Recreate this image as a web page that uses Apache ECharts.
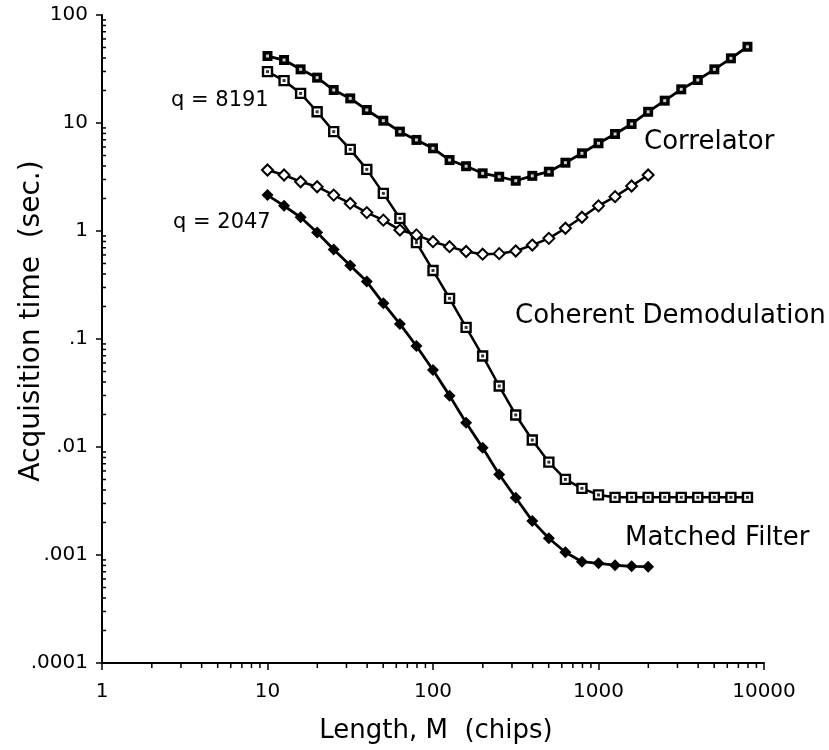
<!DOCTYPE html>
<html>
<head>
<meta charset="utf-8">
<script src="https://cdn.jsdelivr.net/npm/echarts@6/dist/echarts.min.js"></script>
<style>
html,body{margin:0;padding:0;background:#fff;}
#chart{width:829px;height:750px;}
</style>
</head>
<body>
<div id="chart"></div>
<script>
// ---- data ----
const lengthsM = [10, 12.59, 15.85, 19.95, 25.12, 31.62, 39.81, 50.12, 63.1, 79.43,
  100, 125.9, 158.5, 199.5, 251.2, 316.2, 398.1, 501.2, 631, 794.3,
  1000, 1259, 1585, 1995, 2512, 3162, 3981, 5012, 6310, 7943];

// filled squares (top curve, q = 8191)
const filledSquares = [41.7, 38.3, 31.4, 26.3, 20.2, 16.9, 13.2, 10.5, 8.32, 6.97,
  5.83, 4.54, 3.98, 3.42, 3.18, 2.92, 3.24, 3.54, 4.29, 5.24,
  6.49, 7.91, 9.79, 12.7, 16.1, 20.5, 25.0, 31.4, 39.7, 50.8];

// open squares (q = 8191)
const openSquares = [29.9, 24.7, 18.8, 12.7, 8.32, 5.70, 3.72, 2.23, 1.31, 0.78,
  0.431, 0.238, 0.128, 0.0697, 0.0367, 0.0198, 0.0116, 0.00724, 0.00501, 0.00414,
  0.0036, 0.00342, 0.00342, 0.00342, 0.00342, 0.00342, 0.00342, 0.00342, 0.00342, 0.00342];

// open diamonds (q = 2047)
const openDiamonds = [3.67, 3.30, 2.86, 2.57, 2.15, 1.80, 1.48, 1.26, 1.02, 0.92,
  0.796, 0.716, 0.646, 0.61, 0.617, 0.653, 0.741, 0.855, 1.06, 1.34,
  1.71, 2.08, 2.61, 3.30];

// filled diamonds (q = 2047)
const filledDiamonds = [2.15, 1.71, 1.34, 0.97, 0.675, 0.479, 0.340, 0.214, 0.138, 0.0861,
  0.0516, 0.0299, 0.0168, 0.00982, 0.00556, 0.00339, 0.00207, 0.00143, 0.00106, 0.000867,
  0.000838, 0.000804, 0.000785, 0.00078];

const xTickLabels = {0: '1', 1: '10', 2: '100', 3: '1000', 4: '10000'};
const yTickLabels = {'-4': '.0001', '-3': '.001', '-2': '.01', '-1': '.1', '0': '1', '1': '10', '2': '100'};
const minorMultipliers = [2, 3, 4, 5, 6, 7, 8, 9];
const xDecades = [1, 10, 100, 1000];
const yDecades = [0.0001, 0.001, 0.01, 0.1, 1, 10];

const annotations = [
  {text: 'q = 8191', x: 171, y: 101, size: 21},
  {text: 'q = 2047', x: 173, y: 223, size: 21},
  {text: 'Correlator', x: 644, y: 142, size: 26},
  {text: 'Coherent Demodulation', x: 515, y: 316, size: 26},
  {text: 'Matched Filter', x: 625, y: 538, size: 26}
];

// ---- build ----
const FONT = 'DejaVu Sans';
const pair = arr => arr.map((v, i) => [lengthsM[i], v]);
const xMinor = [];
xDecades.forEach(d => minorMultipliers.forEach(m => xMinor.push([m * d, 0.0001])));
const yMinor = [];
yDecades.forEach(d => minorMultipliers.forEach(m => yMinor.push([1, m * d])));

function dotSeries(arr, color) {
  return {
    type: 'scatter', data: pair(arr), symbol: 'rect', symbolSize: 3,
    itemStyle: {color: color}, silent: true, z: 5
  };
}

const chart = echarts.init(document.getElementById('chart'), null, {renderer: 'canvas'});
chart.setOption({
  animation: false,
  backgroundColor: '#fff',
  grid: {left: 102, right: 65, top: 15, bottom: 87, containLabel: false},
  xAxis: {
    type: 'log', logBase: 10, min: 1, max: 10000, splitNumber: 4,
    axisLine: {lineStyle: {color: '#000', width: 2}},
    axisTick: {length: 7, lineStyle: {color: '#000', width: 1.5}},
    splitLine: {show: false},
    axisLabel: {
      fontSize: 20, fontFamily: FONT, color: '#000', margin: 19,
      formatter: v => xTickLabels[Math.round(Math.log10(v))] || ''
    }
  },
  yAxis: {
    type: 'log', logBase: 10, min: 0.0001, max: 100, splitNumber: 6,
    axisLine: {lineStyle: {color: '#000', width: 2}},
    axisTick: {length: 6, lineStyle: {color: '#000', width: 1.5}},
    splitLine: {show: false},
    axisLabel: {
      fontSize: 20, fontFamily: FONT, color: '#000', margin: 14,
      formatter: v => yTickLabels[String(Math.round(Math.log10(v)))] || ''
    }
  },
  graphic: [
    {
      type: 'text', x: 32, y: 321, rotation: Math.PI / 2,
      style: {text: 'Acquisition time  (sec.)', font: '28px "DejaVu Sans"', fill: '#000',
        align: 'center', verticalAlign: 'middle'}
    },
    {
      type: 'text', x: 436, y: 731,
      style: {text: 'Length, M  (chips)', font: '26px "DejaVu Sans"', fill: '#000',
        align: 'center', verticalAlign: 'middle'}
    }
  ].concat(annotations.map(a => ({
    type: 'text', x: a.x, y: a.y,
    style: {text: a.text, font: a.size + 'px "DejaVu Sans"', fill: '#000',
      align: 'left', verticalAlign: 'middle'}
  }))),
  series: [
    {
      type: 'line', name: 'filled squares', data: pair(filledSquares),
      symbol: 'rect', symbolSize: 10, showAllSymbol: true,
      lineStyle: {color: '#000', width: 2.8}, itemStyle: {color: '#000'}, z: 3
    },
    dotSeries(filledSquares, '#fff'),
    {
      type: 'line', name: 'open squares', data: pair(openSquares),
      symbol: 'rect', symbolSize: 9, showAllSymbol: true,
      lineStyle: {color: '#000', width: 2.5},
      itemStyle: {color: '#fff', borderColor: '#000', borderWidth: 2.4}, z: 3
    },
    dotSeries(openSquares, '#000'),
    {
      type: 'line', name: 'open diamonds', data: pair(openDiamonds),
      symbol: 'diamond', symbolSize: [11, 11], showAllSymbol: true,
      lineStyle: {color: '#000', width: 2.5},
      itemStyle: {color: '#fff', borderColor: '#000', borderWidth: 2}, z: 3
    },
    {
      type: 'line', name: 'filled diamonds', data: pair(filledDiamonds),
      symbol: 'diamond', symbolSize: [12, 12], showAllSymbol: true,
      lineStyle: {color: '#000', width: 2.8}, itemStyle: {color: '#000'}, z: 3
    },
    {
      type: 'custom', silent: true, data: xMinor, clip: false,
      renderItem: (params, api) => {
        const p = api.coord([api.value(0), api.value(1)]);
        return {type: 'line', shape: {x1: p[0], y1: p[1], x2: p[0], y2: p[1] + 5},
          style: {stroke: '#000', lineWidth: 1.5}};
      }
    },
    {
      type: 'custom', silent: true, data: yMinor, clip: false,
      renderItem: (params, api) => {
        const p = api.coord([api.value(0), api.value(1)]);
        return {type: 'line', shape: {x1: p[0], y1: p[1], x2: p[0] + 4, y2: p[1]},
          style: {stroke: '#000', lineWidth: 1.5}};
      }
    }
  ]
});
</script>
</body>
</html>
